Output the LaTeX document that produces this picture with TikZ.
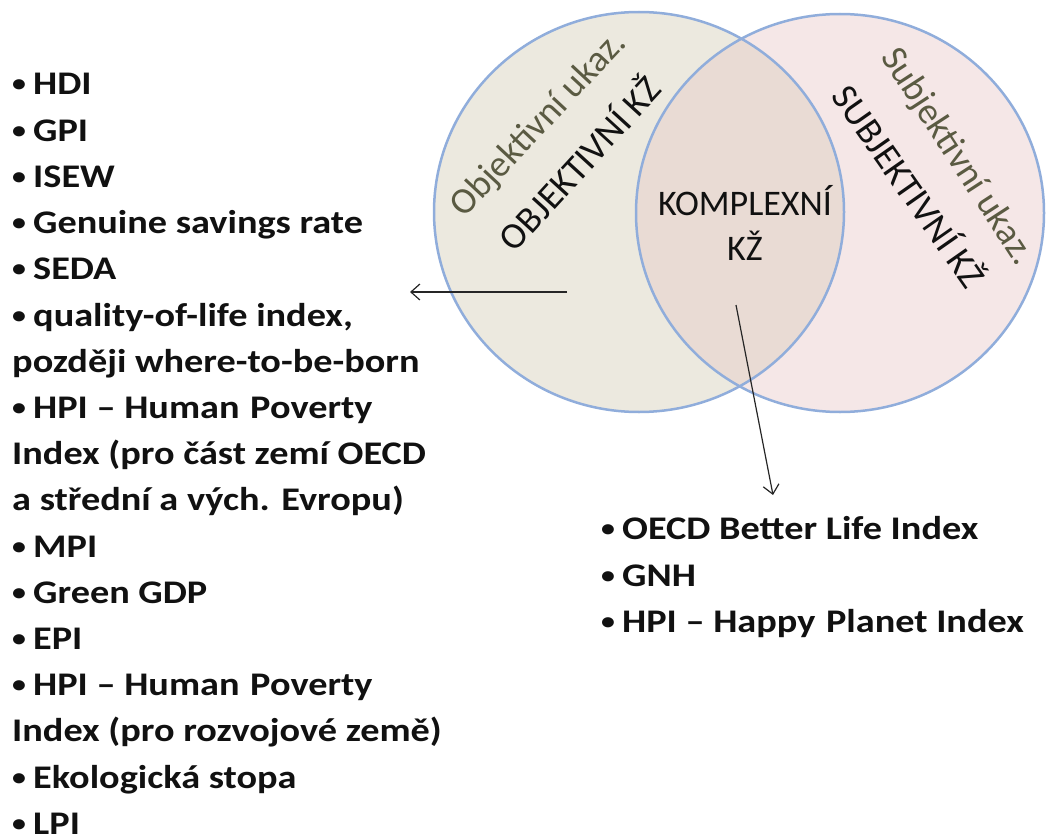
\documentclass[tikz,border=0pt]{standalone}
\usepackage{fontspec}
\setmainfont{Carlito}
\newfontfamily\listfont{Carlito}[FakeStretch=1.16]
\usetikzlibrary{arrows.meta}
\definecolor{fillL}{HTML}{ECE9DF}
\definecolor{fillR}{HTML}{F5E7E7}
\definecolor{fillI}{HTML}{E9DBD4}
\definecolor{ringC}{HTML}{90ADDB}
\definecolor{labC}{HTML}{5A5A42}
\definecolor{txtC}{HTML}{111111}
\newcommand\blt{\makebox[21pt][l]{\raisebox{3pt}{\fontsize{24}{24}\selectfont •}}}
\newcommand\wsp{\ \hspace{2pt}}
\tikzset{
  listitem/.style={anchor=base west, inner sep=0pt, font=\listfont\bfseries\fontsize{33}{38}\selectfont, text=txtC},
  ring/.style={draw=ringC, line width=2.5pt},
  midtxt/.style={anchor=base, inner sep=0pt, font=\fontsize{36}{44}\selectfont, text=txtC},
  rottxt/.style={inner sep=0pt, font=\fontsize{37}{44}\selectfont},
  conn/.style={draw=black!85, line width=1.2pt, -{Straight Barb[length=9pt,width=16pt,line width=1.2pt]}}
}
\begin{document}
\begin{tikzpicture}[x=1pt,y=-1pt]
\useasboundingbox (0,0) rectangle (1046,837);
% circles
\coordinate (cL) at (639,212);
\coordinate (cR) at (840,213);
\fill[fillL] (cL) circle[x radius=205, y radius=200];
\fill[fillR] (cR) circle[x radius=204, y radius=199];
\begin{scope}
  \clip (cL) circle[x radius=205, y radius=200];
  \fill[fillI] (cR) circle[x radius=204, y radius=199];
\end{scope}
\draw[ring] (cL) circle[x radius=205, y radius=200];
\draw[ring] (cR) circle[x radius=204, y radius=199];
% rotated labels
\node[rottxt, text=labC, rotate=47] (oukaz) at (539,125) {Objektivní ukaz.};
\node[rottxt, text=txtC, rotate=47.5] (okz) at (578,162) {OBJEKTIVNÍ KŽ};
\node[rottxt, text=labC, rotate=-57] (sukaz) at (957,157) {Subjektivní ukaz.};
\node[rottxt, text=txtC, rotate=-55] (skz) at (911,185) {SUBJEKTIVNÍ KŽ};
\node[midtxt] (komp1) at (745,215) {KOMPLEXNÍ};
\node[midtxt] (komp2) at (745,260) {KŽ};
% left list
\foreach \t [count=\i] in {\blt HDI, \blt GPI, \blt ISEW, \blt Genuine savings rate, \blt SEDA,
  {\blt quality-of-life index,}, později where-to-be-born, \blt HPI – Human\wsp Poverty,
  Index (pro část zemí OECD, a střední a vých. Evropu), \blt MPI, \blt Green GDP, \blt EPI,
  \blt HPI – Human\wsp Poverty, Index (pro rozvojové země), \blt Ekologická stopa, \blt LPI}
  \node[listitem] (L\i) at (12,{95+46.2*(\i-1)}) {\t};
% right list
\node[listitem] (R1) at (601,539) {\blt OECD Better Life Index};
\node[listitem] (R2) at (601,586) {\blt GNH};
\node[listitem] (R3) at (601,632) {\blt HPI – Happy\wsp Planet Index};
% connectors
\coordinate (aL0) at (567,292);
\coordinate (aL1) at (410,292);
\coordinate (aD0) at (736,305);
\coordinate (aD1) at (773,495);
\draw[conn] (aL0) -- (aL1);
\draw[conn] (aD0) -- (aD1);
\end{tikzpicture}
\end{document}
